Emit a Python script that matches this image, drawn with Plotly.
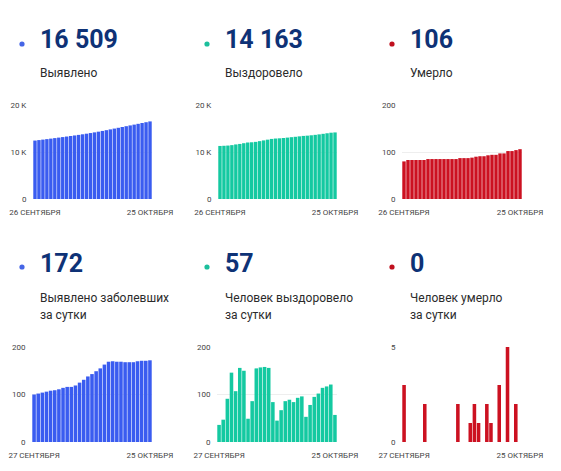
import plotly.graph_objects as go
import pandas as pd

PAGE_W, PAGE_H = 561, 471
BODY = 8                      # browser body margin
W, H = PAGE_W - 2 * BODY, PAGE_H - 2 * BODY

# ---------------- data ----------------
dates_total = pd.date_range("2020-09-26", "2020-10-25", freq="D")
dates_daily = pd.date_range("2020-09-27", "2020-10-25", freq="D")

total_cases = [12435, 12535, 12637, 12741, 12847, 12955, 13064, 13175, 13289, 13405,
               13521, 13640, 13765, 13896, 14034, 14177, 14326, 14481, 14644, 14813,
               14983, 15152, 15321, 15489, 15657, 15825, 15995, 16166, 16337, 16509]
total_recovered = [11288, 11324, 11371, 11462, 11608, 11715, 11871, 12021, 12070, 12156,
                   12311, 12468, 12626, 12782, 12866, 12911, 12978, 13064, 13153, 13237,
                   13330, 13426, 13479, 13557, 13652, 13754, 13868, 13985, 14106, 14163]
total_deaths = [80, 83, 83, 83, 83, 83, 85, 85, 85, 85, 85, 85, 85, 85, 87,
                87, 87, 88, 90, 91, 91, 93, 94, 94, 97, 97, 102, 102, 104, 106]

daily_cases = [100, 102, 104, 106, 108, 109, 111, 114, 116, 116, 119, 125, 131, 138, 143,
               149, 155, 163, 169, 170, 169, 169, 168, 168, 168, 170, 171, 171, 172]
daily_recovered = [36, 47, 91, 146, 107, 156, 150, 49, 86, 155, 157, 158, 156, 84, 45,
                   67, 86, 89, 84, 93, 96, 53, 78, 95, 102, 114, 117, 121, 57]
daily_deaths = [3, 0, 0, 0, 0, 2, 0, 0, 0, 0, 0, 0, 0, 2, 0,
                0, 1, 2, 1, 0, 2, 1, 0, 3, 0, 5, 0, 2, 0]

headline_values = ["16 509", "14 163", "106", "172", "57", "0"]
headline_labels = [["Выявлено"], ["Выздоровело"], ["Умерло"],
                   ["Выявлено заболевших", "за сутки"],
                   ["Человек выздоровело", "за сутки"],
                   ["Человек умерло", "за сутки"]]
date_labels_top = ["26 СЕНТЯБРЯ", "25 ОКТЯБРЯ"]
date_labels_bottom = ["27 СЕНТЯБРЯ", "25 ОКТЯБРЯ"]

# ---------------- style ----------------
BLUE, GREEN, RED = "#3a5cf0", "#14c9a1", "#cc1121"
DOT_BLUE, DOT_GREEN, DOT_RED = "#4565e6", "#1cbf9c", "#c0101e"
NAVY = "#0e3276"
FONT = "Roboto"


def fx(px):
    return (px - BODY) / W


def fy(py):
    return 1 - (py - BODY) / H


panels = [
    dict(x=dates_total, y=total_cases, color=BLUE, dom=(33, 152, 105, 199),
         rng=[0, 20000], tv=[0, 10000, 20000], tt=["0", "10 K", "20 K"], dl=date_labels_top),
    dict(x=dates_total, y=total_recovered, color=GREEN, dom=(218, 337, 105, 199),
         rng=[0, 20000], tv=[0, 10000, 20000], tt=["0", "10 K", "20 K"], dl=date_labels_top),
    dict(x=dates_total, y=total_deaths, color=RED, dom=(402, 522, 105, 199),
         rng=[0, 200], tv=[0, 100, 200], tt=["0", "100", "200"], dl=date_labels_top),
    dict(x=dates_daily, y=daily_cases, color=BLUE, dom=(32, 152, 347, 442),
         rng=[0, 200], tv=[0, 100, 200], tt=["0", "100", "200"], dl=date_labels_bottom),
    dict(x=dates_daily, y=daily_recovered, color=GREEN, dom=(217, 337, 347, 442),
         rng=[0, 200], tv=[0, 100, 200], tt=["0", "100", "200"], dl=date_labels_bottom),
    dict(x=dates_daily, y=daily_deaths, color=RED, dom=(402, 522, 347, 442),
         rng=[0, 5], tv=[0, 5], tt=["0", "5"], dl=date_labels_bottom),
]

fig = go.Figure()
layout = dict(
    template="none",
    width=W, height=H, margin=dict(l=0, r=0, t=0, b=0, pad=0), autosize=False,
    paper_bgcolor="white", plot_bgcolor="white", showlegend=False,
    bargap=0.14, font=dict(family=FONT, color="#444444"),
)

for i, p in enumerate(panels):
    n = i + 1
    xa = "x" if n == 1 else f"x{n}"
    ya = "y" if n == 1 else f"y{n}"
    fig.add_trace(go.Bar(x=p["x"], y=p["y"], marker=dict(color=p["color"], line=dict(width=0)),
                         xaxis=xa, yaxis=ya, hoverinfo="x+y"))
    x0, x1, y0, y1 = p["dom"]
    first, last = p["x"][0], p["x"][-1]
    layout[f"xaxis{'' if n == 1 else n}"] = dict(
        domain=[fx(x0), fx(x1)], anchor=ya, type="date", automargin=False,
        range=[first - pd.Timedelta(hours=12), last + pd.Timedelta(hours=12)],
        tickmode="array", tickvals=[first, last], ticktext=p["dl"],
        showgrid=False, zeroline=False, showline=False,
        ticks="outside", ticklen=5, tickcolor="rgba(0,0,0,0)",
        tickfont=dict(size=8, family=FONT, color="#444444"), fixedrange=True,
    )
    layout[f"yaxis{'' if n == 1 else n}"] = dict(
        domain=[fy(y1), fy(y0)], anchor=xa, range=p["rng"], automargin=False,
        tickmode="array", tickvals=p["tv"], ticktext=p["tt"],
        showgrid=True, gridcolor="#eeeeee", gridwidth=1,
        zeroline=False, showline=False,
        ticks="outside", ticklen=4, tickcolor="rgba(0,0,0,0)",
        tickfont=dict(size=8, family=FONT, color="#444444"), fixedrange=True,
    )

fig.update_layout(**layout)

# ---------------- headers ----------------
col_x = [(22, 38), (207, 223), (392, 408)]
dot_colors = [DOT_BLUE, DOT_GREEN, DOT_RED]
rows = [dict(num_y=40, lab_y=[73]), dict(num_y=263, lab_y=[298, 315])]

shapes = []
annotations = []
for i in range(6):
    r = rows[i // 3]
    dx, tx = col_x[i % 3]
    c = dot_colors[i % 3]
    dy = r["num_y"] + 4
    shapes.append(dict(type="circle", xref="paper", yref="paper",
                       x0=fx(dx - 2.6), x1=fx(dx + 2.6), y0=fy(dy + 2.6), y1=fy(dy - 2.6),
                       fillcolor=c, line=dict(width=0)))
    annotations.append(dict(xref="paper", yref="paper", x=fx(tx), y=fy(r["num_y"]),
                            xanchor="left", yanchor="middle", showarrow=False,
                            text=f"<b>{headline_values[i]}</b>",
                            font=dict(family=FONT, size=25, color=NAVY)))
    for ly, line in zip(r["lab_y"], headline_labels[i]):
        annotations.append(dict(xref="paper", yref="paper", x=fx(tx), y=fy(ly),
                                xanchor="left", yanchor="middle", showarrow=False,
                                text=line, font=dict(family=FONT, size=12, color="#2b2b2b")))

fig.update_layout(shapes=shapes, annotations=annotations)
fig.write_html("out.html", config={"displayModeBar": False})
